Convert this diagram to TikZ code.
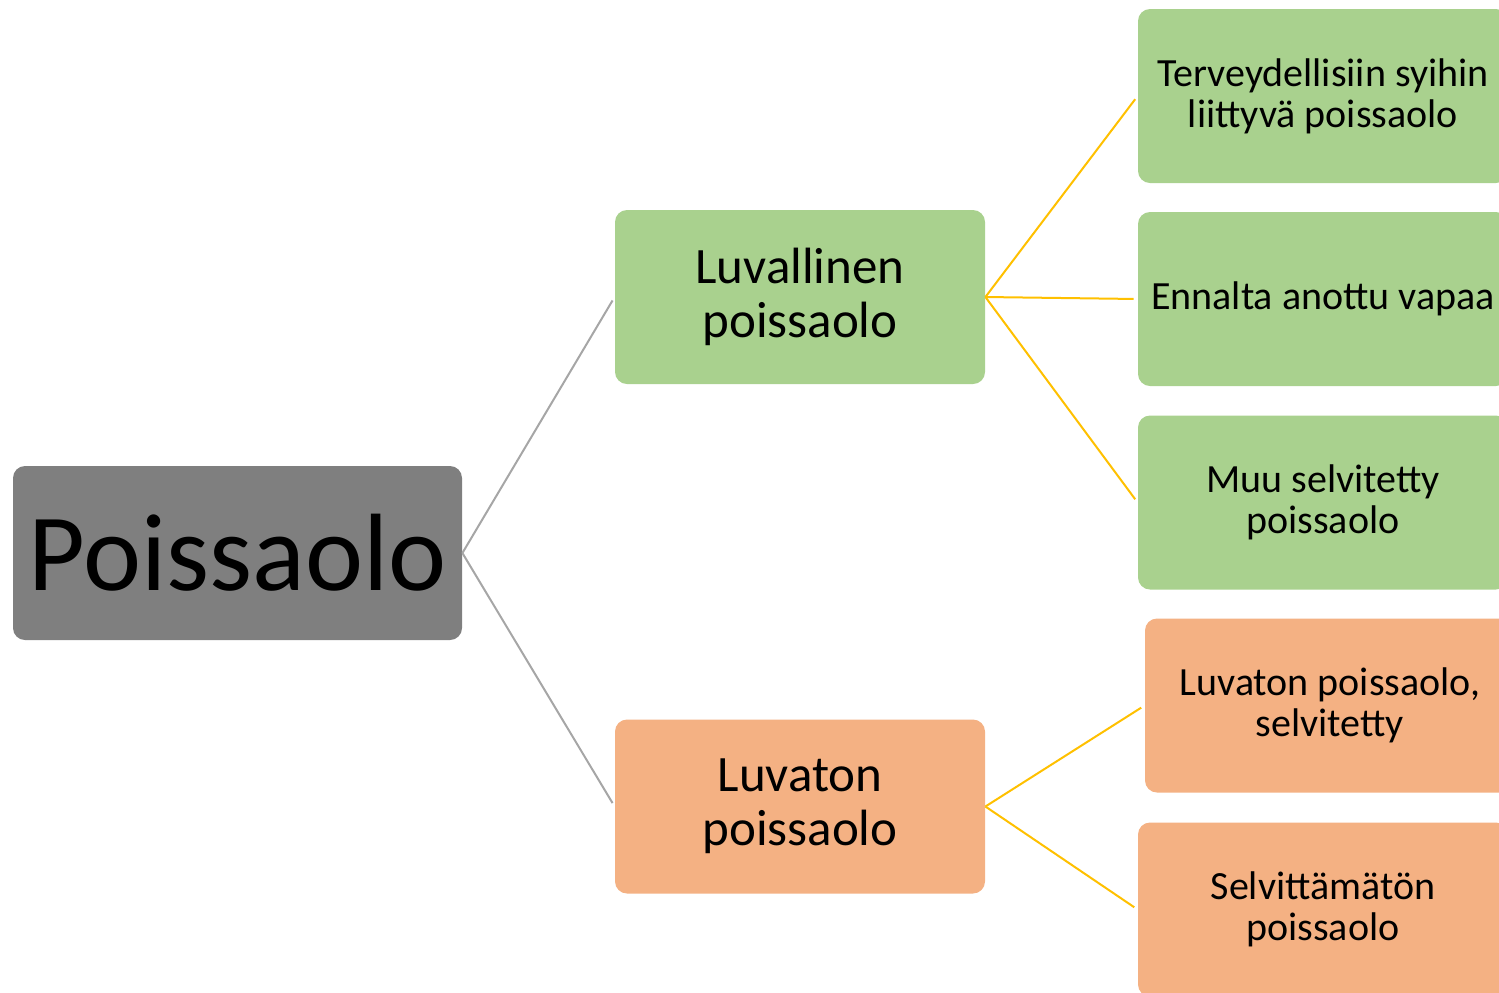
\documentclass[tikz,border=0pt]{standalone}
\usepackage{fontspec}
\setmainfont{Carlito}
\usepackage{xcolor}
\definecolor{vihrea}{HTML}{A9D18E}
\definecolor{oranssi}{HTML}{F4B183}
\definecolor{harmaa}{HTML}{7F7F7F}
\definecolor{keltainen}{HTML}{FFC000}
\definecolor{viiva}{HTML}{A6A6A6}

\begin{document}
\begin{tikzpicture}[x=0.5pt,y=-0.5pt,
    laatikko/.style={rounded corners=6pt, inner sep=0pt, align=center,
      minimum width=185pt, minimum height=87pt, text=black},
    juuri/.style={laatikko, fill=harmaa, minimum width=224.5pt,
      font=\fontsize{55}{60}\selectfont},
    keski/.style={laatikko, font=\fontsize{25.5}{27}\selectfont},
    lehti/.style={laatikko, font=\fontsize{20}{20.5}\selectfont},
    harmaaviiva/.style={draw=viiva, line width=1pt, shorten >=2pt},
    keltaviiva/.style={draw=keltainen, line width=1pt, shorten >=2pt}]
      \useasboundingbox (0,0) rectangle (1499,992);
      \clip (0,0) rectangle (1499,992);

      \coordinate (P) at (237.5,553);
      \coordinate (L1) at (800,297);
      \coordinate (L2) at (800,806.5);

      % Laatikot
      \node[juuri] (poissaolo) at (P) {Poissaolo};
      \node[keski, fill=vihrea] (luvallinen) at (L1) {Luvallinen\\poissaolo};
      \node[keski, fill=oranssi] (luvaton) at (L2) {Luvaton\\poissaolo};

      \node[lehti, fill=vihrea] (terveys) at (1323,96) {Terveydellisiin syihin\\liittyvä poissaolo};
      \node[lehti, fill=vihrea] (ennalta) at (1323,299) {Ennalta anottu vapaa};
      \node[lehti, fill=vihrea] (muu) at (1323,502.5) {Muu selvitetty\\poissaolo};
      \node[lehti, fill=oranssi] (selvitetty) at (1330,705.5) {Luvaton poissaolo,\\selvitetty};
      \node[lehti, fill=oranssi] (selvittamaton) at (1323,909.5) {Selvittämätön\\poissaolo};

      % Viivat
      \draw[harmaaviiva] (poissaolo.east) -- (luvallinen.west);
      \draw[harmaaviiva] (poissaolo.east) -- (luvaton.west);
      \foreach \k in {terveys, ennalta, muu}
        \draw[keltaviiva] (luvallinen.east) -- (\k.west);
      \foreach \k in {selvitetty, selvittamaton}
        \draw[keltaviiva] (luvaton.east) -- (\k.west);
    \end{tikzpicture}
\end{document}
